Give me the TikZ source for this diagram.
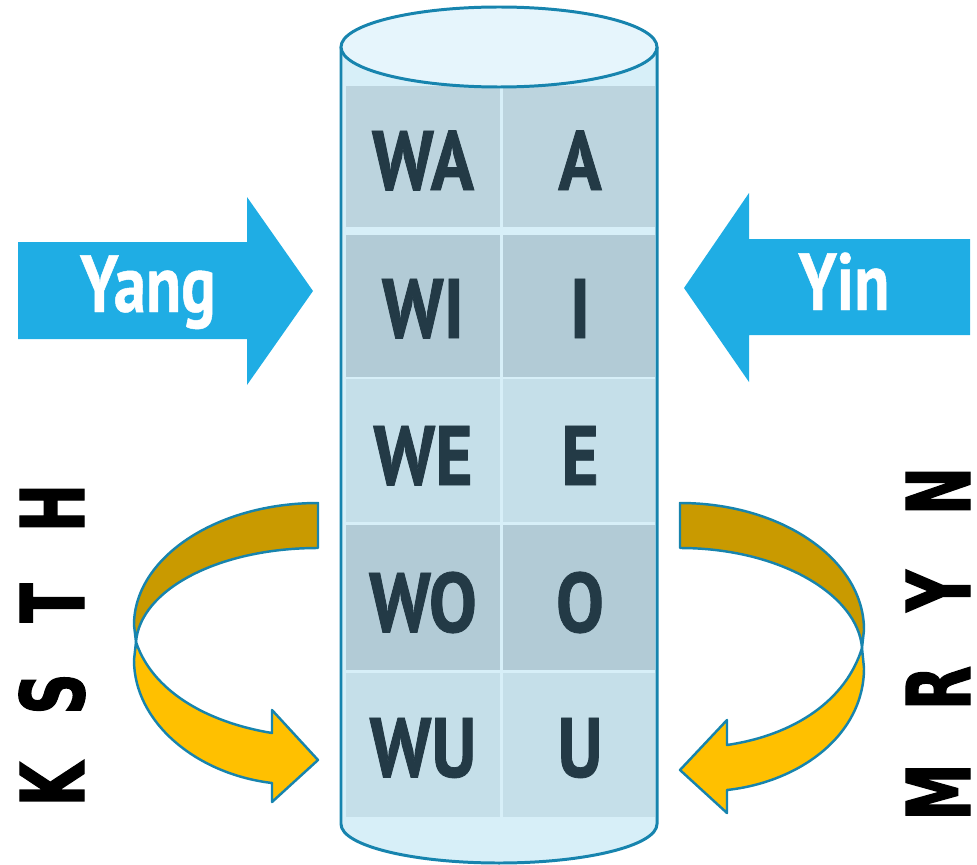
\documentclass[tikz,border=0pt]{standalone}
\usepackage{fontspec}
\usepackage{tikz}

\newfontfamily\cellfont{PT Sans}[FakeStretch=0.85, FakeBold=1]
\newfontfamily\labelfont{PT Sans}[FakeStretch=0.8, FakeBold=0.6]
\newfontfamily\sidefont{DejaVu Sans}[FakeStretch=0.65, FakeBold=1.5]

\definecolor{cylline}{HTML}{1784AE}
\definecolor{cylbody}{HTML}{D7EFF8}
\definecolor{cyltop}{HTML}{E6F5FC}
\definecolor{cellA}{HTML}{BCD4DE}
\definecolor{cellB}{HTML}{B2CBD6}
\definecolor{cellC}{HTML}{C5DFE9}
\definecolor{celltext}{HTML}{233A46}
\definecolor{arrowblue}{HTML}{1FADE4}
\definecolor{ribbonback}{HTML}{C99A00}
\definecolor{ribbonfront}{HTML}{FFC000}

\tikzset{
  celltxt/.style={text=celltext, font=\cellfont\bfseries\fontsize{48}{48}\selectfont, anchor=base, inner sep=0pt},
  arrowtxt/.style={text=white, font=\labelfont\bfseries\fontsize{46}{46}\selectfont, anchor=base, inner sep=0pt},
  sideletter/.style={font=\sidefont\bfseries\fontsize{50}{50}\selectfont, rotate=90, anchor=base, inner sep=0pt},
  ribbon/.style={draw=cylline, line width=1.4pt, line join=round}
}

\begin{document}
\begin{tikzpicture}[x=0.02cm, y=-0.02cm]
\clip (0,0) rectangle (977,865);

% cylinder body
\fill[cylbody] (341,47) -- (341,824) arc[start angle=180, end angle=0, x radius=158, y radius=39] -- (657,47) -- cycle;
\draw[cylline, line width=1.7pt] (341,47) -- (341,824) arc[start angle=180, end angle=0, x radius=158, y radius=39] -- (657,47);

% cells
\foreach \v/\y/\h/\b/\c in {A/86/227/190/cellA, I/235/377/338/cellB, E/379/522/485/cellC, O/525/670/632/cellB, U/673/817/777/cellC}{
	\fill[\c] (346,\y) rectangle (500,\h);
	\fill[\c] (503,\y) rectangle (655,\h);
	\node[celltxt] (w\v) at (423,\b) {W\v};
	\node[celltxt] (v\v) at (580,\b) {\v};
}

% top of the cylinder
\draw[cylline, fill=cyltop, line width=1.7pt] (499,47) ellipse [x radius=158, y radius=40];

% blue arrows
\fill[arrowblue] (18,242) -- (247,242) -- (247,197) -- (313,291) -- (247,385) -- (247,339) -- (18,339) -- cycle;
\node[arrowtxt] (yang) at (148,312) {Yang};
\fill[arrowblue] (970,239) -- (749,239) -- (749,193) -- (684,288) -- (749,382) -- (749,335) -- (970,335) -- cycle;
\node[arrowtxt] (yin) at (844,310) {Yin};

% left ribbon
\draw[ribbon, fill=ribbonback] (318,503) -- (318,548) .. controls (218,548) and (140,590) .. (136,642) -- (134,625) .. controls (134,558) and (216,503) .. (318,503) -- cycle;
\draw[ribbon, fill=ribbonfront] (136,642) -- (134,660) .. controls (134,722) and (196,774) .. (272,783) -- (272,802) -- (318,760) -- (272,710) -- (272,733) .. controls (205,722) and (152,690) .. (136,642) -- cycle;

% right ribbon
\draw[ribbon, fill=ribbonback] (680,503) -- (680,548) .. controls (780,548) and (858,595) .. (862,648) -- (864,630) .. controls (864,560) and (782,503) .. (680,503) -- cycle;
\draw[ribbon, fill=ribbonfront] (862,648) -- (864,668) .. controls (864,735) and (800,782) .. (727,790) -- (727,813) -- (680,770) -- (727,720) -- (727,745) .. controls (795,735) and (846,700) .. (862,648) -- cycle;

% side letters
\foreach \ch/\yy in {K/784,S/694,T/603,H/508}{
	\node[sideletter] (l\ch) at (84,\yy) {\ch};
}
\foreach \ch/\yy in {M/792,R/688,Y/591,N/491}{
	\node[sideletter] (r\ch) at (970,\yy) {\ch};
}

\end{tikzpicture}
\end{document}
